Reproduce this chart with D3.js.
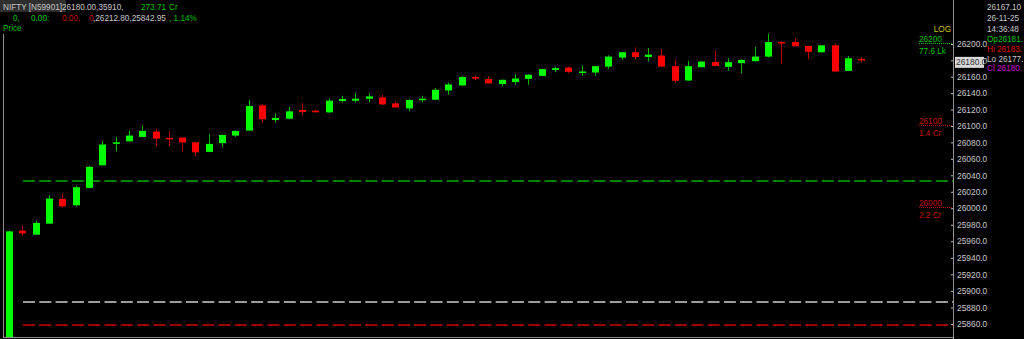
<!DOCTYPE html>
<html>
<head>
<meta charset="utf-8">
<script src="https://cdn.jsdelivr.net/npm/d3@7"></script>
<style>
  body { margin: 0; background: #000; }
  svg { display: block; }
  text { font-family: "Liberation Sans", Arial, sans-serif; font-size: 8.2px; }
</style>
</head>
<body>
<div class="chart"></div>
<script>
// candle values (one per bar)
var opens  = [25843, 25972.9, 25968, 25981.4, 26011.4, 26003.6, 26024.8, 26052.2, 26078.6, 26081.4,
              26086.7, 26093.1, 26085.5, 26085.9, 26080.1, 26068.5, 26079.1, 26088.3, 26094.4, 26125.1,
              26107.3, 26108.9, 26119.5, 26118.6, 26116.6, 26130.4, 26130.8, 26133.2, 26134.8, 26127.5,
              26121.4, 26132, 26132, 26143.3, 26149.4, 26159.6, 26157.1, 26151.1, 26153.5, 26157.5,
              26161.1, 26168.4, 26171.2, 26164.8, 26165.2, 26172.4, 26183.4, 26189.9, 26184.2, 26185.8,
              26172.9, 26155.4, 26171.7, 26178.1, 26172.1, 26176.6, 26179, 26184.6, 26202.4, 26202.4,
              26197.6, 26189.9, 26198.4, 26167.2, 26181.8];
var highs  = [25973, 25979, 25985, 26015.8, 26017.8, 26027.6, 26051.5, 26081.4, 26086.7, 26094.4,
              26100.4, 26096.8, 26094, 26086.5, 26080.5, 26089.9, 26089.5, 26094.5, 26132, 26126.8,
              26115.4, 26123.1, 26128, 26119.5, 26133.6, 26136.9, 26140.1, 26139.3, 26138.1, 26130,
              26133.2, 26136.9, 26146.2, 26153, 26160.8, 26161.1, 26160.3, 26156.5, 26163.2, 26163,
              26169.5, 26172.1, 26172.4, 26174.1, 26173.2, 26186.3, 26190.2, 26196, 26195.1, 26193.9,
              26181.4, 26179.4, 26178.8, 26191.9, 26182.6, 26181, 26196.4, 26212.8, 26203.5, 26206.9,
              26198, 26198.6, 26200, 26185.4, 26183.8];
var lows   = [25842.95, 25967, 25968, 25981, 26000.5, 26002, 26024.5, 26052, 26069.2, 26081,
              26086.5, 26075.3, 26075.3, 26069.2, 26063.1, 26068, 26074.6, 26086.7, 26094, 26104.4,
              26104.4, 26108.5, 26112.9, 26116, 26116, 26128.7, 26128.7, 26128.7, 26125.6, 26122,
              26117.8, 26128.7, 26131.5, 26138.1, 26149, 26156.3, 26151.5, 26148.1, 26150.2, 26150.2,
              26161, 26165.6, 26164.4, 26161.1, 26161.1, 26169.6, 26180.9, 26181.8, 26178.5, 26172,
              26153, 26155, 26171.5, 26173, 26167.2, 26163.9, 26178.8, 26183.4, 26175.7, 26197,
              26181.4, 26189.5, 26166, 26167, 26177.9];
var closes = [25972, 25969.6, 25982.3, 26011.8, 26002.4, 26025.5, 26050.3, 26077.4, 26080.1, 26088.3,
              26094, 26084.6, 26084.6, 26080.1, 26068, 26078.2, 26089.1, 26094, 26124.3, 26108.1,
              26109.8, 26117.8, 26117.1, 26117.1, 26130.8, 26132.8, 26133.2, 26136, 26126.3, 26122.6,
              26131.6, 26133.2, 26144.1, 26150.6, 26159.6, 26157.9, 26151.8, 26156.3, 26157.9, 26162.4,
              26169.3, 26170.5, 26166, 26166.4, 26172.9, 26184.6, 26189.9, 26184.2, 26187, 26172.4,
              26155.1, 26172.9, 26178.5, 26173.3, 26177.8, 26180.6, 26184.6, 26202.4, 26200.9, 26197.2,
              26190.6, 26198.4, 26166.4, 26182.6, 26180];

var tickValues = d3.range(25860, 26201, 20);

// horizontal reference lines
var refLevels = [26033.6, 25886.3, 25858.8];
var refColors = ["#00b000", "#d0d0d0", "#d00000"];

// level markers near the axis
var markLevels = [26200, 26100, 26000];
var markVolumes = ["77.6 Lk", "1.4 Cr", "2.2 Cr"];
var markColors = ["#00c000", "#c00000", "#c00000"];

var svgWidth = 1024;
var svgHeight = 339;
var axisX = 953;

var svg = d3.select(".chart")
  .append("svg")
  .attr("width", svgWidth)
  .attr("height", svgHeight)
  .style("background", "#000");

var n = closes.length;
var data = d3.range(n).map(function(i) {
  return { i: i, o: opens[i], h: highs[i], l: lows[i], c: closes[i] };
});

var x = d3.scaleLinear()
  .domain([0, n - 1])
  .range([9.6, 861.7]);

var y = d3.scaleLog()
  .domain([25860, 26200])
  .range([324, 44]);

// frame
svg.append("line")
  .attr("x1", 3.5).attr("x2", 3.5).attr("y1", 34).attr("y2", 338)
  .attr("stroke", "#909090");
svg.append("line")
  .attr("x1", 3).attr("x2", axisX).attr("y1", 337.5).attr("y2", 337.5)
  .attr("stroke", "#909090");
svg.append("line")
  .attr("x1", axisX + 0.5).attr("x2", axisX + 0.5).attr("y1", 0).attr("y2", 339)
  .attr("stroke", "#909090");

// dashed reference lines
svg.selectAll(".ref")
  .data(refLevels)
  .enter()
  .append("line")
  .attr("class", "ref")
  .attr("x1", 23)
  .attr("x2", axisX)
  .attr("y1", d => Math.round(y(d)))
  .attr("y2", d => Math.round(y(d)))
  .attr("stroke", (d, i) => refColors[i])
  .attr("stroke-width", 1.6)
  .attr("stroke-dasharray", "12,4.3");

var plot = svg.append("g")
  .attr("clip-path", "url(#plotclip)");
svg.append("clipPath").attr("id", "plotclip")
  .append("rect").attr("x", 4).attr("y", 0).attr("width", axisX - 4).attr("height", 337);

var candles = plot.selectAll(".candle")
  .data(data)
  .enter()
  .append("g")
  .attr("class", "candle");

candles.append("line")
  .attr("x1", d => Math.round(x(d.i) - 3.5) + 3.5)
  .attr("x2", d => Math.round(x(d.i) - 3.5) + 3.5)
  .attr("y1", d => y(d.h))
  .attr("y2", d => y(d.l))
  .attr("stroke", d => d.c >= d.o ? "#00b400" : "#b40000")
  .attr("stroke-width", 1);

candles.append("rect")
  .attr("x", d => Math.round(x(d.i) - 3.5))
  .attr("width", 7)
  .attr("y", d => y(Math.max(d.o, d.c)))
  .attr("height", d => Math.max(1.5, Math.abs(y(d.o) - y(d.c))))
  .attr("fill", d => d.c >= d.o ? "#00ff00" : "#ff0000");

// right price axis
var rightAxis = d3.axisRight(y)
  .tickValues(tickValues)
  .tickSize(-2)
  .tickPadding(4)
  .tickFormat(d3.format(".1f"));

var axisG = svg.append("g")
  .attr("transform", `translate(${axisX}, 0)`)
  .call(rightAxis);
axisG.select(".domain").remove();
axisG.selectAll("line").attr("stroke", "#c0c0c0");
axisG.selectAll("text")
  .attr("fill", "#c8c8c8")
  .style("font-family", "Liberation Sans, Arial, sans-serif")
  .style("font-size", "8.4px");

// last price box
var last = n - 1;
var yLast = y(closes[last]);
svg.append("rect")
  .attr("x", 955)
  .attr("y", yLast - 3.5)
  .attr("width", 29)
  .attr("height", 11)
  .attr("fill", "#d8d8d8");
svg.append("text")
  .attr("x", 956)
  .attr("y", yLast + 4.3)
  .attr("fill", "#303030")
  .style("font-size", "8.4px")
  .text(closes[last].toFixed(1));

// level markers
svg.append("text")
  .attr("x", 951).attr("y", 32)
  .attr("text-anchor", "end")
  .attr("fill", "#c8c800")
  .text("LOG");

markLevels.forEach(function(lv, i) {
  var yy = Math.round(y(lv)) - 0.5;
  svg.append("line")
    .attr("x1", 919).attr("x2", axisX)
    .attr("y1", yy).attr("y2", yy)
    .attr("stroke", markColors[i])
    .attr("stroke-dasharray", "1,1");
  svg.append("text")
    .attr("x", 919).attr("y", yy - 2)
    .attr("fill", markColors[i])
    .text(lv);
  svg.append("text")
    .attr("x", 919).attr("y", yy + 10)
    .attr("fill", markColors[i])
    .text(markVolumes[i]);
});

// header
svg.append("rect")
  .attr("x", 0).attr("y", 0).attr("width", 66).attr("height", 12)
  .attr("fill", "#2e2e2e");

var header = [
  { x: 3, y: 9.5, t: "NIFTY [N59901]" + closes[last].toFixed(2) + ",35910,", c: "#c8c8c8" },
  { x: 141, y: 9.5, t: "273.71", c: "#00c000" },
  { x: 169, y: 9.5, t: "Cr", c: "#00c000" },
  { x: 13, y: 20.5, t: "0,", c: "#00c000" },
  { x: 31, y: 20.5, t: "0.00:", c: "#00c000" },
  { x: 62, y: 20.5, t: "0.00,", c: "#c00000" },
  { x: 89, y: 20.5, t: "0", c: "#c00000" },
  { x: 93, y: 20.5, t: "," + d3.max(highs).toFixed(2) + "," + d3.min(lows).toFixed(2), c: "#c8c8c8" },
  { x: 169, y: 20.5, t: ", 1.14%", c: "#00c000" },
  { x: 3, y: 31, t: "Price", c: "#00c000" }
];
svg.selectAll(".hdr")
  .data(header)
  .enter()
  .append("text")
  .attr("class", "hdr")
  .attr("x", d => d.x)
  .attr("y", d => d.y)
  .attr("fill", d => d.c)
  .text(d => d.t);

// info panel (the window cuts these off after the decimal point)
var info = [
  { t: "26167.10", c: "#c8c8c8" },
  { t: "26-11-25", c: "#c8c8c8" },
  { t: "14:36:48", c: "#c8c8c8" },
  { t: "Op" + Math.floor(opens[last]) + ".", c: "#00c000" },
  { t: "Hi " + Math.floor(highs[last]) + ".", c: "#e00000" },
  { t: "Lo " + Math.floor(lows[last]) + ".", c: "#c8c8c8" },
  { t: "Cl " + Math.floor(closes[last]) + ".", c: "#d000d0" }
];
var infoY = [10, 21, 32, 42, 52, 61.5, 70.5];
svg.selectAll(".info")
  .data(info)
  .enter()
  .append("text")
  .attr("class", "info")
  .attr("x", 987)
  .attr("y", (d, i) => infoY[i])
  .attr("fill", d => d.c)
  .text(d => d.t);
</script>
</body>
</html>
